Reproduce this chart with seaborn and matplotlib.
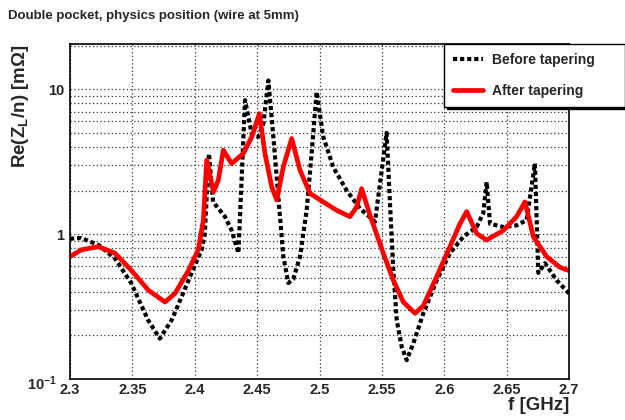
import matplotlib
matplotlib.use("Agg")
import matplotlib.pyplot as plt
import matplotlib.ticker as mticker
import matplotlib.transforms as mtransforms
import pandas as pd
import seaborn as sns

# Data (f in GHz, Re(Z_L/n) in mOhm)
before_f = [2.300, 2.309, 2.323, 2.336, 2.349, 2.3626, 2.372, 2.3815, 2.3895, 2.3975,
            2.4055, 2.408, 2.4114, 2.4147, 2.4242, 2.4296, 2.435, 2.4403, 2.4457, 2.451,
            2.455, 2.459, 2.463, 2.467, 2.471, 2.475, 2.479, 2.4844, 2.4897, 2.4937,
            2.4977, 2.503, 2.511, 2.5218, 2.5325, 2.5445, 2.5499, 2.5538, 2.5565, 2.5592,
            2.5619, 2.5659, 2.5699, 2.5752, 2.5832, 2.594, 2.6046, 2.6153, 2.626, 2.6313,
            2.634, 2.6367, 2.6473, 2.658, 2.666, 2.6727, 2.6754, 2.6808, 2.6901, 2.700]
before_v = [0.93, 0.94, 0.84, 0.68, 0.46, 0.255, 0.19, 0.255, 0.37, 0.54,
            0.78, 1.0, 3.6, 1.67, 1.32, 1.06, 0.74, 8.4, 4.9, 4.7,
            5.8, 11.5, 4.7, 1.81, 0.70, 0.46, 0.49, 0.70, 1.46, 3.6,
            9.6, 4.7, 2.9, 2.0, 1.5, 1.22, 2.76, 5.0, 1.63, 0.56,
            0.255, 0.167, 0.135, 0.176, 0.284, 0.48, 0.74, 0.96, 1.12, 1.40,
            2.29, 1.18, 1.12, 1.15, 1.25, 3.07, 0.54, 0.63, 0.48, 0.39]

after_f = [2.300, 2.3093, 2.3227, 2.336, 2.3494, 2.3628, 2.3762, 2.3842, 2.3949, 2.4028,
           2.4069, 2.4096, 2.415, 2.4189, 2.4229, 2.4296, 2.4389, 2.4457, 2.4518, 2.4563,
           2.4617, 2.4657, 2.471, 2.4777, 2.4844, 2.4924, 2.503, 2.5138, 2.5244, 2.5298,
           2.5338, 2.5405, 2.5511, 2.5592, 2.5672, 2.5766, 2.5832, 2.594, 2.6046, 2.6126,
           2.618, 2.626, 2.634, 2.6473, 2.658, 2.6647, 2.6714, 2.6821, 2.6928, 2.700]
after_v = [0.70, 0.78, 0.82, 0.74, 0.56, 0.41, 0.34, 0.39, 0.56, 0.78,
           1.25, 3.24, 1.96, 2.36, 3.79, 3.07, 3.6, 4.69, 6.78, 3.6,
           2.12, 1.72, 2.91, 4.57, 2.76, 1.91, 1.67, 1.46, 1.32, 1.54,
           2.06, 1.35, 0.74, 0.48, 0.34, 0.284, 0.32, 0.51, 0.82, 1.18,
           1.43, 1.01, 0.91, 1.06, 1.32, 1.67, 0.96, 0.70, 0.59, 0.56]

x_ticks = [2.3, 2.35, 2.4, 2.45, 2.5, 2.55, 2.6, 2.65, 2.7]
x_ticklabels = ["2.3", "2.35", "2.4", "2.45", "2.5", "2.55", "2.6", "2.65", "2.7"]
y_ticks = [0.1, 1, 10]
y_ticklabels = ["$10^{-1}$", "1", "10"]

df_before = pd.DataFrame({"f": before_f, "z": before_v})
df_after = pd.DataFrame({"f": after_f, "z": after_v})

sns.set_style("white")
plt.rcParams["font.family"] = ["Liberation Sans", "DejaVu Sans"]
plt.rcParams["font.weight"] = "bold"
plt.rcParams["mathtext.fontset"] = "custom"
plt.rcParams["mathtext.rm"] = "Liberation Sans:bold"
plt.rcParams["mathtext.bf"] = "Liberation Sans:bold"
plt.rcParams["mathtext.it"] = "Liberation Sans:bold"
plt.rcParams["mathtext.default"] = "bf"

fig = plt.figure(figsize=(6.25, 4.2), dpi=100)
ax = fig.add_axes([0.112, 0.0976, 0.7984, 0.7974])

sns.lineplot(data=df_before, x="f", y="z", ax=ax, sort=False, estimator=None,
             color="black", lw=3.0, linestyle=(0, (1.0, 0.7)), label="Before tapering")
sns.lineplot(data=df_after, x="f", y="z", ax=ax, sort=False, estimator=None,
             color="red", lw=3.4, label="After tapering")

ax.set_yscale("log")
ax.set_xlim(2.3, 2.7)
ax.set_ylim(0.1, 20.5)

ax.set_xticks(x_ticks)
ax.set_xticklabels(x_ticklabels)
ax.xaxis.set_minor_locator(mticker.MultipleLocator(0.01))
ax.set_yticks(y_ticks)
ax.set_yticklabels(y_ticklabels)
ax.yaxis.set_minor_locator(mticker.LogLocator(base=10, subs=range(2, 10)))
ax.yaxis.set_minor_formatter(mticker.NullFormatter())

ax.tick_params(axis="x", which="major", direction="in", length=11, width=1,
               labelsize=10.5, pad=3, top=False)
ax.tick_params(axis="x", which="minor", direction="in", length=5, width=1, top=False)
ax.tick_params(axis="y", which="major", direction="in", length=14, width=1,
               labelsize=10.5, pad=4, right=False)
ax.tick_params(axis="y", which="minor", direction="in", length=8, width=1, right=False)

# ROOT puts the 10^-1 label a little to the left and lower, next to "2.3"
low_label = ax.get_yticklabels()[0]
low_label.set_transform(low_label.get_transform() +
                        mtransforms.ScaledTranslation(-0.08, -0.03, fig.dpi_scale_trans))

ax.grid(True, axis="x", which="major", color="#333333", lw=0.9, linestyle=(0, (1, 2)))
ax.grid(True, axis="y", which="both", color="#333333", lw=0.9, linestyle=(0, (1, 2)))

for s in ax.spines.values():
    s.set_linewidth(1.2)
    s.set_color("black")

ax.set_xlabel("f [GHz]", fontsize=13.5, fontweight="bold", loc="right", labelpad=0)
ax.set_ylabel("Re(Z$_{L}$/n) [mΩ]", fontsize=13.5, fontweight="bold", loc="top")
ax.yaxis.set_label_coords(-0.078, 1.0)

fig.text(0.013, 0.963, "Double pocket, physics position (wire at 5mm)",
         fontsize=9.5, fontweight="bold", ha="left", va="center")

ax.legend_.remove()
handles, labels = ax.get_legend_handles_labels()
leg = fig.legend(handles, labels, loc="upper left", mode="expand",
                 bbox_to_anchor=(0.7104, 0.745, 0.2896, 0.15),
                 fontsize=10, frameon=True, fancybox=False, handlelength=2.2,
                 handletextpad=0.6, borderaxespad=0, labelspacing=1.25, borderpad=0.62,
                 shadow={"color": "black", "alpha": 1})
leg.get_frame().set_edgecolor("black")
leg.get_frame().set_linewidth(1)
for t in leg.get_texts():
    t.set_fontweight("bold")

fig.savefig("out.png", dpi=100, facecolor="white")
